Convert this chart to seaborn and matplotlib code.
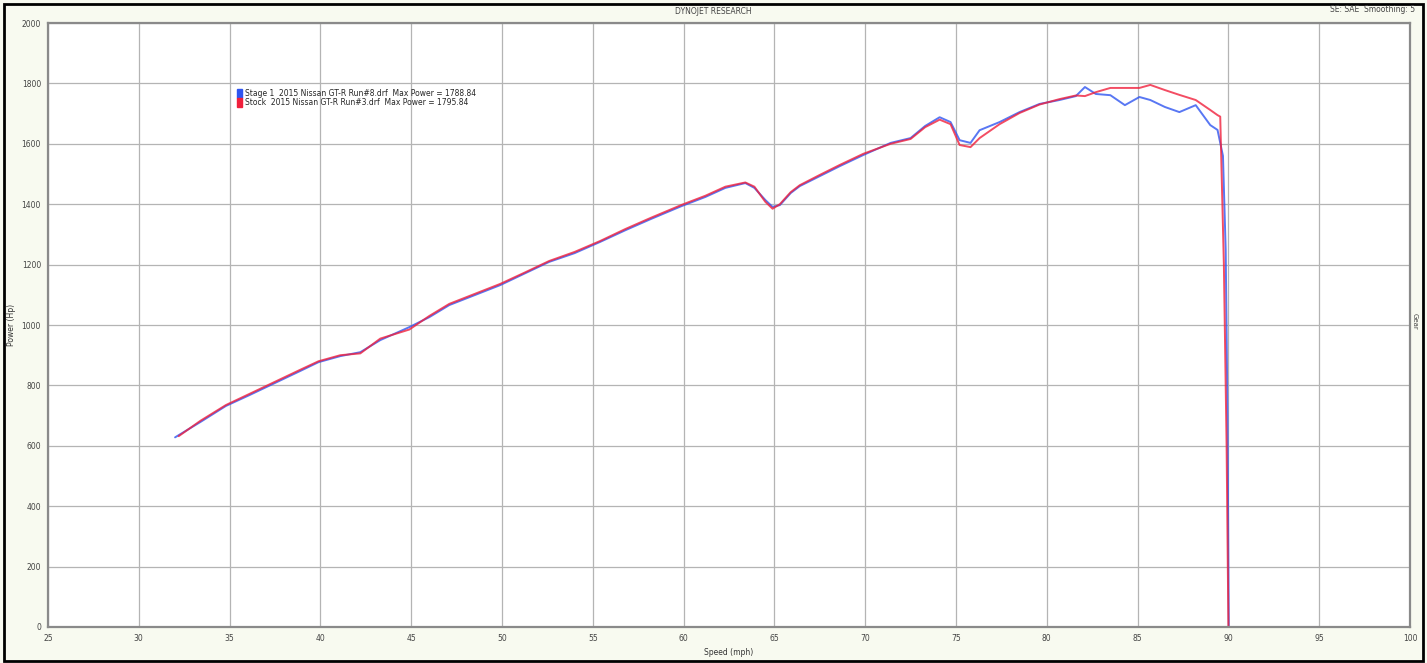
import numpy as np
import pandas as pd
import matplotlib.pyplot as plt
import seaborn as sns
from matplotlib.patches import Patch, Rectangle

# chart values
speed_blue = [32.0, 33.4, 34.8, 36.1, 37.5, 38.9, 39.9, 41.1, 42.2, 43.3, 44.9, 46.0, 47.1,
              48.5, 49.9, 51.3, 52.6, 54.0, 55.4, 56.8, 58.2, 59.9, 61.2, 62.3, 63.4, 63.9,
              64.5, 64.9, 65.3, 65.9, 66.4, 67.5, 68.6, 69.9, 71.4, 72.5, 73.3, 74.1, 74.7,
              75.2, 75.8, 76.3, 77.4, 78.5, 79.6, 80.7, 81.6, 82.1, 82.7, 83.5, 84.3, 85.1,
              85.7, 86.5, 87.3, 88.2, 89.0, 89.4, 89.7, 89.85, 89.95, 90.02]
power_blue = [628, 679, 732, 768, 808, 848, 877, 897, 910, 950, 993, 1026, 1066,
              1099, 1132, 1172, 1209, 1238, 1275, 1314, 1351, 1394, 1424, 1454, 1470, 1454,
              1414, 1391, 1397, 1437, 1460, 1493, 1526, 1563, 1603, 1619, 1659, 1688, 1672,
              1612, 1603, 1645, 1672, 1705, 1732, 1745, 1758, 1788, 1765, 1761, 1728, 1755,
              1745, 1722, 1705, 1728, 1662, 1646, 1560, 1250, 700, 0]

speed_red = [32.2, 33.4, 34.8, 36.1, 37.5, 38.9, 39.9, 41.1, 42.2, 43.3, 44.9, 46.0, 47.1,
             48.5, 49.9, 51.3, 52.6, 54.0, 55.4, 56.8, 58.2, 59.9, 61.2, 62.3, 63.4, 63.9,
             64.5, 64.9, 65.3, 65.9, 66.4, 67.5, 68.6, 69.9, 71.4, 72.5, 73.3, 74.1, 74.7,
             75.2, 75.8, 76.3, 77.4, 78.5, 79.6, 80.7, 81.6, 82.1, 82.7, 83.5, 84.3, 85.1,
             85.7, 86.5, 87.3, 88.2, 89.0, 89.4, 89.55, 89.75, 89.9, 90.0]
power_red = [632, 683, 735, 772, 812, 852, 880, 900, 906, 955, 985, 1030, 1070,
             1103, 1136, 1175, 1212, 1242, 1278, 1318, 1355, 1398, 1428, 1458, 1472, 1458,
             1408, 1385, 1400, 1440, 1463, 1497, 1530, 1567, 1600, 1616, 1655, 1680, 1665,
             1596, 1589, 1619, 1665, 1702, 1730, 1748, 1760, 1758, 1771, 1785, 1785, 1785,
             1795, 1778, 1762, 1745, 1712, 1695, 1690, 1200, 600, 0]

run_labels = ["Stage 1  2015 Nissan GT-R Run#8.drf  Max Power = 1788.84",
              "Stock  2015 Nissan GT-R Run#3.drf  Max Power = 1795.84"]
run_colors = ["#2f55f0", "#f0203c"]

x_ticks = list(range(25, 101, 5))
y_ticks = list(range(0, 2001, 200))


def build_frame() -> pd.DataFrame:
    blue = pd.DataFrame({'speed': speed_blue, 'power': power_blue, 'run': run_labels[0]})
    red = pd.DataFrame({'speed': speed_red, 'power': power_red, 'run': run_labels[1]})
    return pd.concat([blue, red], ignore_index=True)


def main():
    sns.set_style('white')
    plt.rcParams['font.family'] = ['DejaVu Sans']

    data = build_frame()

    fig = plt.figure(figsize=(14.27, 6.63), dpi=100, facecolor='#f8faf0')
    ax = fig.add_axes([0.0336, 0.0543, 0.9545, 0.9110])
    ax.set_facecolor('white')

    sns.lineplot(
        data=data,
        x='speed',
        y='power',
        hue='run',
        palette=run_colors,
        sort=False,
        estimator=None,
        linewidth=1.4,
        alpha=0.8,
        ax=ax,
    )

    ax.set_xlim(25, 100)
    ax.set_ylim(0, 2000)
    ax.set_xticks(x_ticks)
    ax.set_yticks(y_ticks)
    ax.set_yticks(list(range(0, 2001, 50)), minor=True)
    ax.grid(True, which='major', color='#b4b4b4', linewidth=0.9)
    ax.tick_params(axis='both', which='major', labelsize=5.5, colors='#444444',
                   length=3, pad=2)
    ax.tick_params(axis='y', which='minor', length=2, color='#999999')
    for spine in ax.spines.values():
        spine.set_color('#8a8a8a')
        spine.set_linewidth(1.6)

    ax.set_xlabel('Speed (mph)', fontsize=5.5, color='#333333', labelpad=4)
    ax.set_ylabel('Power (Hp)', fontsize=5.5, color='#333333', labelpad=4)

    handles = [Patch(facecolor=c, edgecolor=c) for c in run_colors]
    ax.legend(handles, run_labels, loc='upper left', bbox_to_anchor=(0.135, 0.9),
              fontsize=5.5, frameon=False, handlelength=0.6, handleheight=1.5,
              handletextpad=0.4, labelspacing=0.0, borderpad=0.2)

    fig.text(0.5, 0.982, 'DYNOJET RESEARCH', ha='center', va='center',
             fontsize=5.5, color='#444444')
    fig.text(0.992, 0.985, 'SE: SAE  Smoothing: 5', ha='right', va='center',
             fontsize=5.5, color='#444444')
    fig.text(0.9915, 0.515, 'Gear', ha='center', va='center', rotation=270,
             fontsize=5, color='#444444')

    fig.patches.append(Rectangle((0.003, 0.003), 0.994, 0.991, transform=fig.transFigure,
                                 fill=False, edgecolor='black', linewidth=2))

    fig.savefig('out.png', dpi=100, facecolor=fig.get_facecolor())


if __name__ == '__main__':
    main()
